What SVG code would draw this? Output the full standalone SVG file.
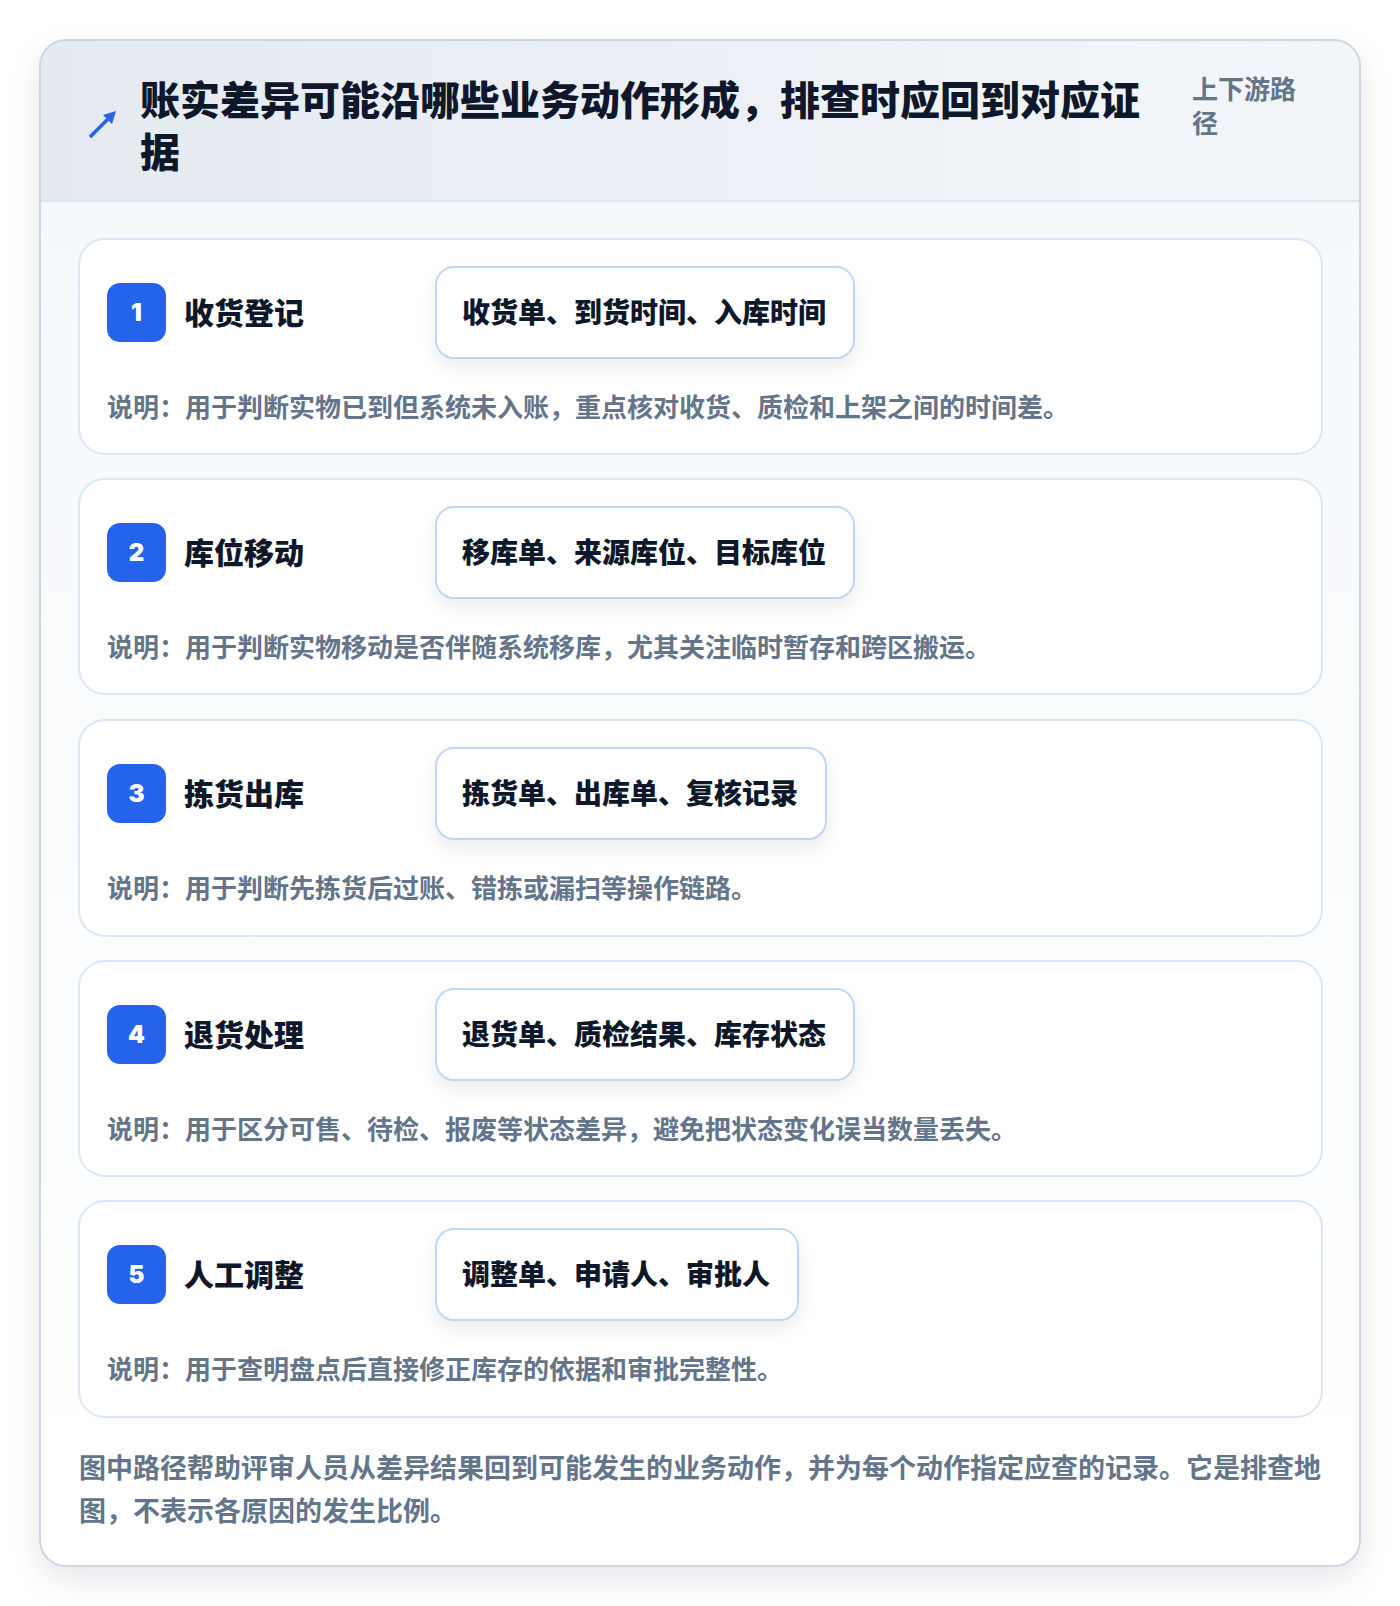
<svg xmlns="http://www.w3.org/2000/svg" width="1400" height="1606" viewBox="0 0 1400 1606">
<defs>
<linearGradient id="hdr" x1="0" y1="0" x2="1" y2="0"><stop offset="0" stop-color="#e5eaf2"/><stop offset="1" stop-color="#f3f6f9"/></linearGradient>
<linearGradient id="body" x1="0" y1="0" x2="0" y2="1"><stop offset="0" stop-color="#f6f9fc"/><stop offset="1" stop-color="#ffffff"/></linearGradient>
<filter id="sh" x="-10%" y="-10%" width="120%" height="120%"><feDropShadow dx="0" dy="12" stdDeviation="16" flood-color="#0f172a" flood-opacity="0.10"/></filter>
<filter id="psh" x="-20%" y="-30%" width="140%" height="170%"><feDropShadow dx="0" dy="8" stdDeviation="9" flood-color="#0f172a" flood-opacity="0.08"/></filter>
<clipPath id="cardclip"><rect x="40" y="40" width="1320" height="1526" rx="26"/></clipPath>
</defs>
<style>
text{font-family:"Noto Sans CJK SC","Noto Sans",sans-serif;font-weight:700}
.title{font-size:40px;fill:#0f172a;font-weight:900}
.tag{font-size:26px;fill:#64748b}
.step{fill:#ffffff;stroke:#dbe7f7;stroke-width:2}
.badge{fill:#2563eb}
.num{font-family:Inter,"Noto Sans",sans-serif;font-size:24px;font-weight:900;fill:#ffffff;text-anchor:middle}
.sname{font-size:30px;fill:#0f172a;font-weight:800}
.pill{fill:#ffffff;stroke:#bfd6f4;stroke-width:2}
.ptext{font-size:28px;fill:#0f172a;font-weight:800}
.desc{font-size:26px;fill:#64748b}
.foot{font-size:27px;fill:#64748b}
</style>
<rect width="1400" height="1606" fill="#ffffff"/>
<rect x="40" y="40" width="1320" height="1526" rx="26" fill="#ffffff" filter="url(#sh)"/>
<g clip-path="url(#cardclip)">
<rect x="40" y="201" width="1320" height="1365" fill="url(#body)"/>
<rect x="40" y="40" width="1320" height="161" fill="url(#hdr)"/>
<line x1="40" y1="201" x2="1360" y2="201" stroke="#dbe6f3" stroke-width="2"/>
</g>
<rect x="40" y="40" width="1320" height="1526" rx="26" fill="none" stroke="#cdd6e2" stroke-width="2"/>
<g id="header">
<g id="icon" stroke="#2563eb" stroke-width="3.5" fill="#2563eb">
<line x1="90" y1="137" x2="110" y2="117"/>
<polygon points="116,111 103,115 112,124" stroke="none"/>
</g>
<text class="title" x="140" y="115">账实差异可能沿哪些业务动作形成，排查时应回到对应证</text>
<text class="title" x="140" y="167">据</text>
<text class="tag" x="1192" y="99">上下游路</text>
<text class="tag" x="1192" y="133">径</text>
</g>
<g id="step1">
<rect class="step" x="79" y="239" width="1243" height="215" rx="26"/>
<rect class="badge" x="107" y="283" width="59" height="59" rx="13"/>
<text class="num" x="136.5" y="321">1</text>
<text class="sname" x="184" y="324">收货登记</text>
<rect class="pill" x="436" y="267" width="418" height="91" rx="18" filter="url(#psh)"/>
<text class="ptext" x="462" y="323">收货单、到货时间、入库时间</text>
<text class="desc" x="107" y="417">说明：用于判断实物已到但系统未入账，重点核对收货、质检和上架之间的时间差。</text>
</g>
<g id="step2">
<rect class="step" x="79" y="479" width="1243" height="215" rx="26"/>
<rect class="badge" x="107" y="523" width="59" height="59" rx="13"/>
<text class="num" x="136.5" y="561">2</text>
<text class="sname" x="184" y="564">库位移动</text>
<rect class="pill" x="436" y="507" width="418" height="91" rx="18" filter="url(#psh)"/>
<text class="ptext" x="462" y="563">移库单、来源库位、目标库位</text>
<text class="desc" x="107" y="657">说明：用于判断实物移动是否伴随系统移库，尤其关注临时暂存和跨区搬运。</text>
</g>
<g id="step3">
<rect class="step" x="79" y="720" width="1243" height="216" rx="26"/>
<rect class="badge" x="107" y="764" width="59" height="59" rx="13"/>
<text class="num" x="136.5" y="802">3</text>
<text class="sname" x="184" y="805">拣货出库</text>
<rect class="pill" x="436" y="748" width="390" height="91" rx="18" filter="url(#psh)"/>
<text class="ptext" x="462" y="804">拣货单、出库单、复核记录</text>
<text class="desc" x="107" y="898">说明：用于判断先拣货后过账、错拣或漏扫等操作链路。</text>
</g>
<g id="step4">
<rect class="step" x="79" y="961" width="1243" height="215" rx="26"/>
<rect class="badge" x="107" y="1005" width="59" height="59" rx="13"/>
<text class="num" x="136.5" y="1043">4</text>
<text class="sname" x="184" y="1046">退货处理</text>
<rect class="pill" x="436" y="989" width="418" height="91" rx="18" filter="url(#psh)"/>
<text class="ptext" x="462" y="1045">退货单、质检结果、库存状态</text>
<text class="desc" x="107" y="1139">说明：用于区分可售、待检、报废等状态差异，避免把状态变化误当数量丢失。</text>
</g>
<g id="step5">
<rect class="step" x="79" y="1201" width="1243" height="216" rx="26"/>
<rect class="badge" x="107" y="1245" width="59" height="59" rx="13"/>
<text class="num" x="136.5" y="1283">5</text>
<text class="sname" x="184" y="1286">人工调整</text>
<rect class="pill" x="436" y="1229" width="362" height="91" rx="18" filter="url(#psh)"/>
<text class="ptext" x="462" y="1285">调整单、申请人、审批人</text>
<text class="desc" x="107" y="1379">说明：用于查明盘点后直接修正库存的依据和审批完整性。</text>
</g>
<g id="connectors"/>
<g id="footer">
<text class="foot" x="79" y="1478">图中路径帮助评审人员从差异结果回到可能发生的业务动作，并为每个动作指定应查的记录。它是排查地</text>
<text class="foot" x="79" y="1521">图，不表示各原因的发生比例。</text>
</g>
</svg>
